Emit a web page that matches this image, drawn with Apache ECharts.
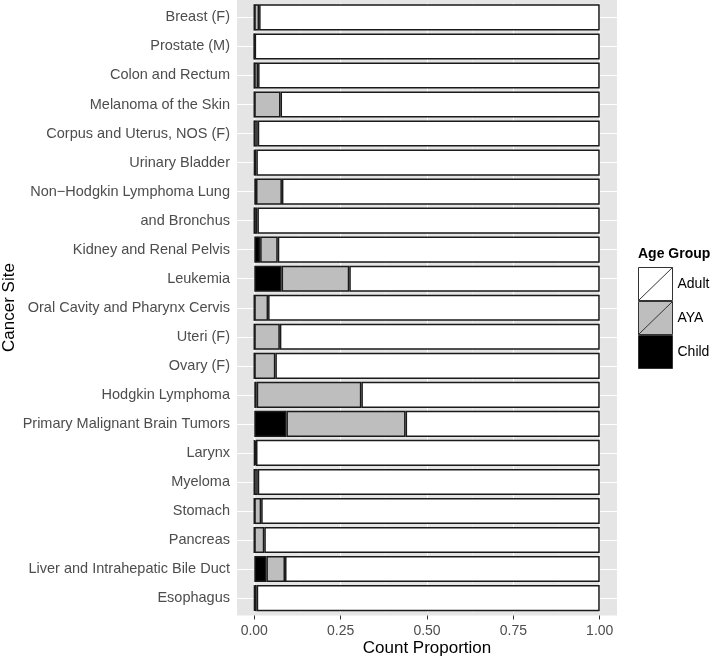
<!DOCTYPE html>
<html>
<head>
<meta charset="utf-8">
<script src="https://cdn.jsdelivr.net/npm/echarts@6/dist/echarts.min.js"></script>
<style>html,body{margin:0;padding:0;background:#fff}#c{width:714px;height:659px}</style>
</head>
<body>
<div id="c"></div>
<script>
const categories = ['Breast (F)','Prostate (M)','Colon and Rectum','Melanoma of the Skin','Corpus and Uterus, NOS (F)','Urinary Bladder','Non\u2212Hodgkin Lymphoma Lung','and Bronchus','Kidney and Renal Pelvis','Leukemia','Oral Cavity and Pharynx Cervis','Uteri (F)','Ovary (F)','Hodgkin Lymphoma','Primary Malignant Brain Tumors','Larynx','Myeloma','Stomach','Pancreas','Liver and Intrahepatic Bile Duct','Esophagus'];
const childVals = [0,0,0,0,0,0.001,0.005,0,0.017,0.079,0,0,0,0.007,0.093,0.001,0,0,0,0.035,0.001];
const ayaVals   = [0.014,0.001,0.011,0.076,0.010,0.005,0.075,0.009,0.051,0.196,0.040,0.074,0.061,0.303,0.345,0.004,0.010,0.020,0.029,0.054,0.006];
const adultVals = [0.986,0.999,0.989,0.924,0.990,0.994,0.920,0.991,0.932,0.725,0.960,0.926,0.939,0.690,0.562,0.995,0.990,0.980,0.971,0.911,0.993];
const xTicks = [0, 0.25, 0.5, 0.75, 1];
const xMinor = [0.125, 0.375, 0.625, 0.875];
const tickLabels = ['0.00','0.25','0.50','0.75','1.00'];
const groups = ['Adult','AYA','Child'];
const xTitle = 'Count Proportion';
const yTitle = 'Cancer Site';
const legendTitle = 'Age Group';

const FONT = '"Liberation Sans", Arial, Helvetica, sans-serif';
const chart = echarts.init(document.getElementById('c'), null, {renderer:'canvas'});
const barBorder = {borderColor:'#1a1a1a', borderWidth:1.5};
const slashIcon = 'path://M0,0L34,0L34,33L0,33Z M0,33L34,0';

const gridLines = [];
xTicks.forEach(v => gridLines.push({xAxis: v, lineStyle:{color:'#ffffff', width:1.1, type:'solid'}}));
xMinor.forEach(v => gridLines.push({xAxis: v, lineStyle:{color:'#f2f2f2', width:0.6, type:'solid'}}));
categories.forEach(c => gridLines.push({yAxis: c, lineStyle:{color:'#ffffff', width:1.1, type:'solid'}}));

const option = {
  animation: false,
  backgroundColor: '#ffffff',
  textStyle: {fontFamily: FONT},
  title: [{text:legendTitle, left:638, top:247, padding:0,
    textStyle:{fontSize:14, fontWeight:'bold', color:'#000', fontFamily:FONT}}],
  legend: {
    orient:'vertical', left:638, top:267, padding:0,
    itemWidth:34, itemHeight:33, itemGap:0,
    textStyle:{fontSize:14, color:'#000', fontFamily:FONT},
    data:[
      {name:groups[0], icon:slashIcon, itemStyle:{color:'#ffffff', borderColor:'#333', borderWidth:1}},
      {name:groups[1], icon:slashIcon, itemStyle:{color:'#bebebe', borderColor:'#333', borderWidth:1}},
      {name:groups[2], icon:'rect', itemStyle:{color:'#000000', borderColor:'#333', borderWidth:1}}
    ]
  },
  graphic: [
    {type:'rect', z:-10, silent:true, shape:{x:237, y:0, width:380, height:615.5}, style:{fill:'#e5e5e5'}},
    {type:'text', silent:true, x:427, y:648, style:{text:xTitle, fill:'#000', font:'17px ' + FONT, textAlign:'center', textVerticalAlign:'middle'}},
    {type:'text', silent:true, x:9, y:307.5, rotation:Math.PI/2, style:{text:yTitle, fill:'#000', font:'17px ' + FONT, textAlign:'center', textVerticalAlign:'middle'}}
  ],
  grid: {left:237, right:97, top:2.9, bottom:46.4, containLabel:false, outerBoundsMode:'none'},
  xAxis: {
    type:'value', min:-0.05, max:1.05, offset:2.9,
    splitLine:{show:false},
    axisLine:{show:false},
    axisTick:{show:true, length:4, customValues:xTicks, lineStyle:{color:'#333', width:1}},
    axisLabel:{customValues:xTicks, margin:9, fontSize:14, color:'#4d4d4d', fontFamily:FONT,
      formatter: v => { const i = xTicks.indexOf(v); return i >= 0 ? tickLabels[i] : ''; }}
  },
  yAxis: {
    type:'category', data:categories, inverse:true,
    axisLine:{show:false},
    axisTick:{show:true, length:4, alignWithLabel:true, lineStyle:{color:'#333', width:1}},
    axisLabel:{margin:7, fontSize:14.5, color:'#4d4d4d', fontFamily:FONT, interval:0},
    splitLine:{show:false}
  },
  series: [
    {name:'grid', type:'line', data:[], z:1, silent:true,
      markLine:{silent:true, z:1, symbol:['none','none'], label:{show:false}, data:gridLines}},
    {name:groups[2], type:'bar', stack:'s', barWidth:'90%', z:3, data:childVals, itemStyle:Object.assign({color:'#000000'}, barBorder)},
    {name:groups[1], type:'bar', stack:'s', barWidth:'90%', z:3, data:ayaVals, itemStyle:Object.assign({color:'#bebebe'}, barBorder)},
    {name:groups[0], type:'bar', stack:'s', barWidth:'90%', z:3, data:adultVals, itemStyle:Object.assign({color:'#ffffff'}, barBorder)}
  ]
};
chart.setOption(option);
</script>
</body>
</html>
